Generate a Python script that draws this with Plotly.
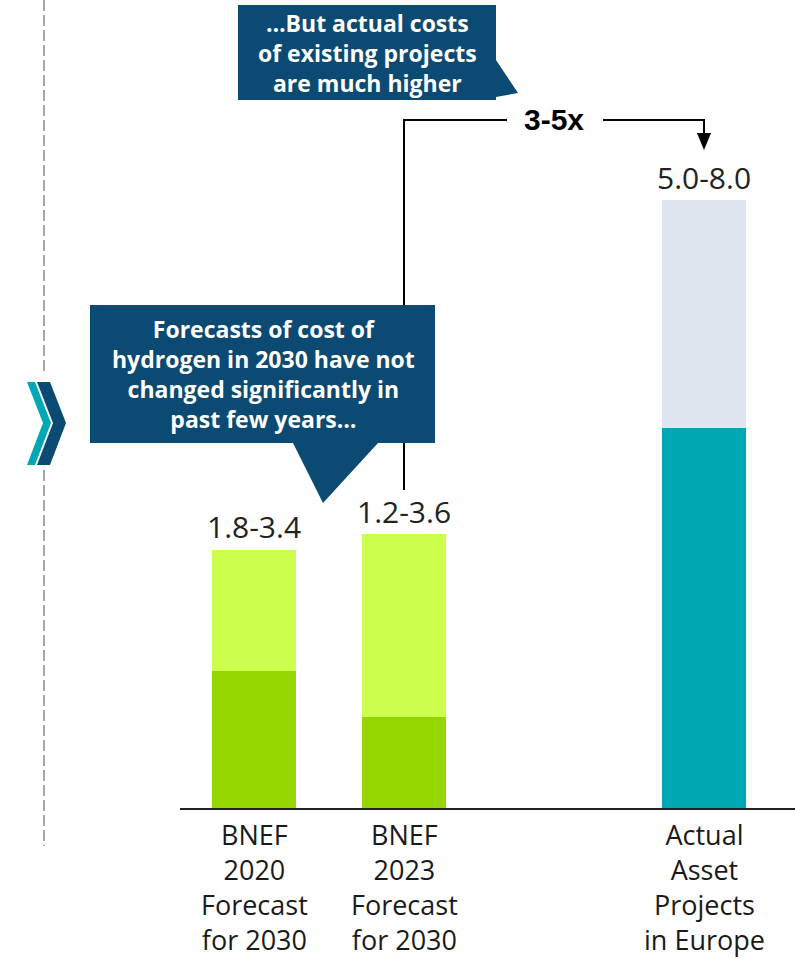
import plotly.graph_objects as go

# ---- data ----
categories = ["BNEF<br>2020<br>Forecast<br>for 2030",
              "BNEF<br>2023<br>Forecast<br>for 2030",
              "Actual<br>Asset<br>Projects<br>in Europe"]
x_pos = [0, 1, 3]
low = [1.8, 1.2, 5.0]
high = [3.4, 3.6, 8.0]
dark_colors = ["#95d600", "#95d600", "#00a7b5"]
light_colors = ["#ccff4d", "#ccff4d", "#dfe6ef"]
callout_top = "…But actual costs<br>of existing projects<br>are much higher"
callout_mid = "Forecasts of cost of<br>hydrogen in 2030 have not<br>changed significantly in<br>past few years…"
multiple_text = "3-5x"

W, H = 795, 958
PLOT_BOTTOM = 808          # pixel row of the baseline
PX_PER_UNIT = 76
X0_PX, X_STEP = 254, 150   # centre of first category, spacing

FONT = "Open Sans"
NAVY = "#0b4a72"

def px(x):  # pixel -> paper x
    return x / W

def py(y):  # pixel -> paper y
    return (PLOT_BOTTOM - y) / PLOT_BOTTOM

def dx(x):  # pixel -> data x
    return (x - X0_PX) / X_STEP

def dy(y):  # pixel -> data y
    return (PLOT_BOTTOM - y) / PX_PER_UNIT

fig = go.Figure()
fig.add_trace(go.Bar(x=x_pos, y=low, base=[0] * len(low), width=0.56,
                     marker=dict(color=dark_colors, line=dict(width=0)),
                     hoverinfo="skip", showlegend=False))
fig.add_trace(go.Bar(x=x_pos, y=[h - l for h, l in zip(high, low)], base=low, width=0.56,
                     marker=dict(color=light_colors, line=dict(width=0)),
                     hoverinfo="skip", showlegend=False))

annotations = []
# range labels above the bars
for x, l, h in zip(x_pos, low, high):
    annotations.append(dict(x=x, y=h, xref="x", yref="y", text=f"{l:.1f}-{h:.1f}",
                            showarrow=False, yanchor="middle", yshift=23,
                            font=dict(family=FONT, size=30, color="#222222")))
# category labels
for x, t in zip(x_pos, categories):
    annotations.append(dict(x=x, y=py(887), xref="x", yref="paper", text=t,
                            showarrow=False, yanchor="middle", xanchor="center",
                            font=dict(family=FONT, size=27, color="#1a1a1a")))
# callout texts
annotations.append(dict(x=px(367), y=py(53), xref="paper", yref="paper", text=callout_top,
                        showarrow=False, xanchor="center", yanchor="middle",
                        font=dict(family=FONT, size=23, color="white", weight="bold")))
annotations.append(dict(x=px(263), y=py(374), xref="paper", yref="paper", text=callout_mid,
                        showarrow=False, xanchor="center", yanchor="middle",
                        font=dict(family=FONT, size=23, color="white", weight="bold")))
annotations.append(dict(x=dx(554), y=dy(119), xref="x", yref="y", text=multiple_text,
                        showarrow=False, xanchor="center", yanchor="middle",
                        font=dict(family="Liberation Sans", size=30, color="black", weight="bold")))

shapes = []
# dashed separator
for y0, y1 in [(0, 372), (470, 846)]:
    shapes.append(dict(type="line", xref="paper", yref="paper", x0=px(44), x1=px(44),
                       y0=py(y0), y1=py(y1), line=dict(color="#a6a6a6", width=2, dash="11px,4px")))

def path(pts):
    return "M " + " L ".join(f"{px(a):.5f},{py(b):.5f}" for a, b in pts) + " Z"

# chevrons
shapes.append(dict(type="path", xref="paper", yref="paper", line=dict(width=0), fillcolor="#00a7b5",
                   path=path([(27, 382), (35, 382), (51, 423), (35, 465), (27, 465), (43, 423)])))
shapes.append(dict(type="path", xref="paper", yref="paper", line=dict(width=0), fillcolor=NAVY,
                   path=path([(37, 382), (50, 382), (66, 423), (50, 465), (37, 465), (53, 423)])))

# bracket (data coords, from BNEF 2023 to Actual)
bx0, bx1 = x_pos[1], x_pos[2]
y_br = dy(120)
shapes.append(dict(type="path", xref="x", yref="y", line=dict(color="black", width=2),
                   path=f"M {bx0},{dy(490)} L {bx0},{y_br} L {dx(507)},{y_br}"))
shapes.append(dict(type="path", xref="x", yref="y", line=dict(color="black", width=2),
                   path=f"M {dx(603)},{y_br} L {bx1},{y_br} L {bx1},{dy(134)}"))
shapes.append(dict(type="path", xref="x", yref="y", line=dict(width=0), fillcolor="black",
                   path=f"M {bx1 - 0.047},{dy(133)} L {bx1 + 0.047},{dy(133)} L {bx1},{dy(150)} Z"))

# callout boxes
shapes.append(dict(type="path", xref="paper", yref="paper", line=dict(width=0), fillcolor=NAVY,
                   path=path([(238, 5), (496, 5), (496, 60), (518, 93), (496, 97), (496, 100), (238, 100)])))
shapes.append(dict(type="path", xref="paper", yref="paper", line=dict(width=0), fillcolor=NAVY,
                   path=path([(90, 305), (435, 305), (435, 443), (378, 443), (323, 503), (293, 443), (90, 443)])))

fig.update_layout(
    width=W, height=H,
    margin=dict(l=0, r=0, t=0, b=H - PLOT_BOTTOM, pad=0),
    paper_bgcolor="white", plot_bgcolor="white",
    barmode="overlay", bargap=0,
    xaxis=dict(domain=[180 / W, 1], range=[dx(180), dx(W)], showgrid=False, zeroline=False,
               showticklabels=False, ticks="", showline=True, linecolor="#222222", linewidth=2,
               fixedrange=True),
    yaxis=dict(range=[0, PLOT_BOTTOM / PX_PER_UNIT], showgrid=False, zeroline=False,
               showticklabels=False, ticks="", showline=False, fixedrange=True),
    annotations=annotations, shapes=shapes,
    font=dict(family=FONT),
)

fig.write_html("out.html", config={"displayModeBar": False, "staticPlot": True},
               post_script="document.body.style.margin='0';document.body.style.padding='0';")
